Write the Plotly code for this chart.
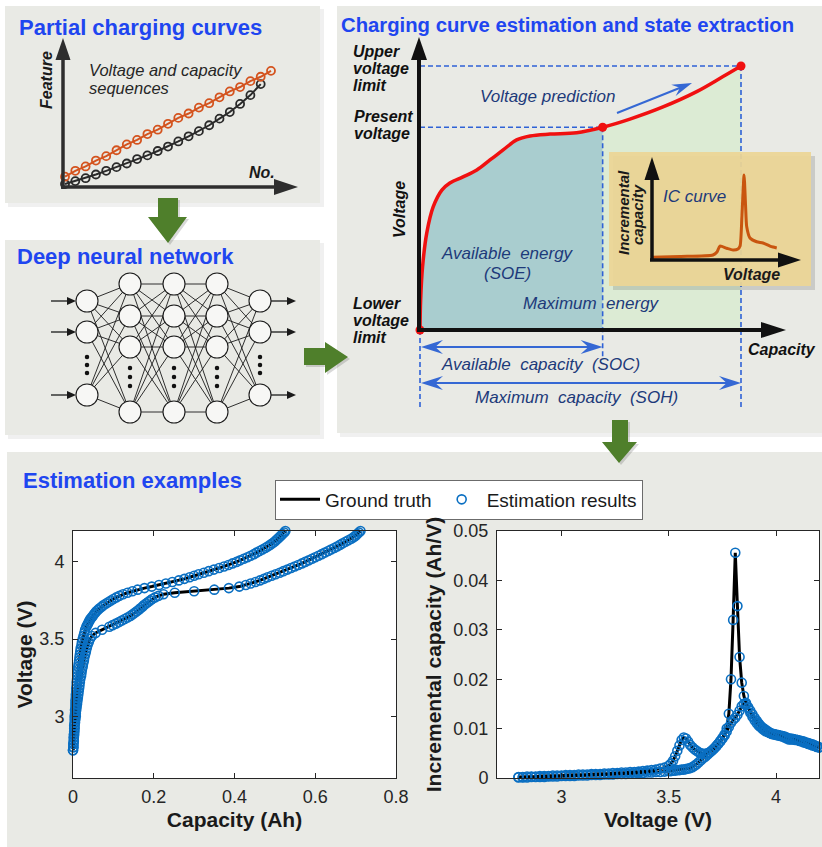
import math
import plotly.graph_objects as go

W, H = 822, 847
FONT = "Arial, 'Liberation Sans', Helvetica, sans-serif"
TITLE_BLUE = "#1f46f0"
NAVY = "#1d3a7a"
DASH_BLUE = "#2f62d6"
GREEN = "#4f7f2b"
PANEL = "#e9eae5"
MARKER_BLUE = "#0a6fc2"

# ---------------------------------------------------------------- data
# Estimation examples (left): charging curves, voltage grid vs capacity
volt_grid_q = [
    2.78, 2.80, 2.82, 2.84, 2.86, 2.88, 2.90, 2.92, 2.94, 2.96,
    2.98, 3.00, 3.02, 3.04, 3.06, 3.08, 3.10, 3.12, 3.14, 3.16,
    3.18, 3.20, 3.22, 3.24, 3.26, 3.28, 3.30, 3.32, 3.34, 3.36,
    3.38, 3.40, 3.42, 3.44, 3.46, 3.48, 3.50, 3.52, 3.54, 3.56,
    3.58,
    3.59, 3.60, 3.61, 3.62, 3.63, 3.64, 3.65, 3.66, 3.67, 3.68,
    3.69, 3.70, 3.71, 3.72, 3.73, 3.74, 3.75, 3.76, 3.77, 3.78,
    3.79, 3.80, 3.81, 3.82, 3.83, 3.84, 3.85, 3.86, 3.87, 3.88,
    3.89, 3.90, 3.91, 3.92, 3.93, 3.94, 3.95, 3.96, 3.97, 3.98,
    3.99, 4.00, 4.01, 4.02, 4.03, 4.04, 4.05, 4.06, 4.07, 4.08,
    4.09, 4.10, 4.11, 4.12, 4.13, 4.14, 4.15, 4.16, 4.17, 4.18,
    4.19, 4.20]
cap_cell_a = [
    0.000, 0.001, 0.001, 0.002, 0.002, 0.002, 0.003, 0.003, 0.003, 0.004,
    0.004, 0.004, 0.005, 0.005, 0.006, 0.006, 0.006, 0.007, 0.007, 0.008,
    0.008, 0.009, 0.009, 0.010, 0.011, 0.011, 0.012, 0.013, 0.014, 0.015,
    0.016, 0.017, 0.018, 0.019, 0.021, 0.022, 0.024, 0.026, 0.028, 0.030,
    0.033,
    0.035, 0.037, 0.039, 0.041, 0.043, 0.046, 0.049, 0.052, 0.055, 0.058,
    0.062, 0.066, 0.071, 0.076, 0.082, 0.088, 0.094, 0.100, 0.107, 0.115,
    0.124, 0.135, 0.147, 0.160, 0.177, 0.195, 0.213, 0.230, 0.246, 0.262,
    0.276, 0.289, 0.300, 0.311, 0.324, 0.336, 0.349, 0.362, 0.374, 0.385,
    0.395, 0.405, 0.414, 0.423, 0.432, 0.440, 0.448, 0.455, 0.462, 0.469,
    0.476, 0.482, 0.488, 0.494, 0.499, 0.503, 0.507, 0.511, 0.515, 0.519,
    0.523, 0.526]
cap_cell_b = [
    0.000, 0.001, 0.001, 0.002, 0.002, 0.003, 0.003, 0.004, 0.004, 0.005,
    0.006, 0.007, 0.007, 0.008, 0.009, 0.010, 0.011, 0.012, 0.013, 0.014,
    0.015, 0.016, 0.017, 0.018, 0.020, 0.021, 0.022, 0.024, 0.025, 0.027,
    0.028, 0.030, 0.032, 0.034, 0.036, 0.039, 0.042, 0.047, 0.056, 0.072,
    0.090,
    0.098, 0.106, 0.114, 0.121, 0.128, 0.135, 0.142, 0.148, 0.153, 0.158,
    0.163, 0.167, 0.172, 0.176, 0.181, 0.186, 0.191, 0.196, 0.203, 0.212,
    0.224, 0.252, 0.300, 0.350, 0.386, 0.412, 0.428, 0.440, 0.452, 0.463,
    0.473, 0.482, 0.492, 0.502, 0.512, 0.521, 0.531, 0.540, 0.549, 0.558,
    0.567, 0.575, 0.584, 0.592, 0.600, 0.608, 0.616, 0.624, 0.632, 0.639,
    0.647, 0.654, 0.661, 0.668, 0.675, 0.682, 0.689, 0.695, 0.700, 0.704,
    0.708, 0.712]

# Estimation examples (right): incremental capacity curves
volt_grid_ic = [
    2.80, 2.82, 2.84, 2.86, 2.88, 2.90, 2.92, 2.94, 2.96, 2.98,
    3.00, 3.02, 3.04, 3.06, 3.08, 3.10, 3.12, 3.14, 3.16, 3.18,
    3.20, 3.22, 3.24, 3.26, 3.28, 3.30, 3.32, 3.34, 3.36, 3.38,
    3.40, 3.42, 3.44, 3.46, 3.48,
    3.50, 3.51, 3.52, 3.53, 3.54, 3.55, 3.56, 3.57, 3.58, 3.59,
    3.60, 3.61, 3.62, 3.63, 3.64, 3.65, 3.66, 3.67, 3.68, 3.69,
    3.70, 3.71, 3.72, 3.73, 3.74, 3.75, 3.76, 3.77, 3.78, 3.79,
    3.80, 3.81, 3.82, 3.83, 3.84, 3.85, 3.86, 3.87, 3.88, 3.89,
    3.90, 3.91, 3.92, 3.93, 3.94, 3.95, 3.96, 3.97, 3.98, 3.99,
    4.00, 4.01, 4.02, 4.03, 4.04, 4.05, 4.06, 4.07, 4.08, 4.09,
    4.10, 4.11, 4.12, 4.13, 4.14, 4.15, 4.16, 4.17, 4.18, 4.19,
    4.20]
ic_cell_a = [
    0.0001, 0.0001, 0.0001, 0.0002, 0.0002, 0.0002, 0.0002, 0.0003, 0.0003, 0.0003,
    0.0004, 0.0004, 0.0004, 0.0004, 0.0005, 0.0005, 0.0005, 0.0006, 0.0006, 0.0006,
    0.0007, 0.0007, 0.0007, 0.0008, 0.0008, 0.0008, 0.0009, 0.0009, 0.0010, 0.0010,
    0.0011, 0.0011, 0.0012, 0.0012, 0.0013,
    0.0014, 0.0014, 0.0015, 0.0015, 0.0016, 0.0016, 0.0017, 0.0017, 0.0018, 0.0019,
    0.0020, 0.0022, 0.0025, 0.0028, 0.0032, 0.0036, 0.0040, 0.0043, 0.0047, 0.0051,
    0.0055, 0.0059, 0.0064, 0.0069, 0.0074, 0.0080, 0.0086, 0.0094, 0.0103, 0.0112,
    0.0118, 0.0122, 0.0128, 0.0136, 0.0145, 0.0150, 0.0149, 0.0143, 0.0136, 0.0129,
    0.0122, 0.0116, 0.0110, 0.0105, 0.0101, 0.0098, 0.0095, 0.0092, 0.0090, 0.0089,
    0.0088, 0.0087, 0.0086, 0.0085, 0.0084, 0.0082, 0.0080, 0.0080, 0.0079, 0.0078,
    0.0077, 0.0076, 0.0075, 0.0074, 0.0072, 0.0071, 0.0069, 0.0068, 0.0066, 0.0064,
    0.0062]
ic_cell_b = [
    0.0002, 0.0002, 0.0003, 0.0003, 0.0003, 0.0004, 0.0004, 0.0004, 0.0005, 0.0005,
    0.0005, 0.0006, 0.0006, 0.0006, 0.0007, 0.0007, 0.0007, 0.0008, 0.0008, 0.0008,
    0.0009, 0.0009, 0.0010, 0.0010, 0.0011, 0.0011, 0.0012, 0.0012, 0.0013, 0.0014,
    0.0015, 0.0016, 0.0017, 0.0019, 0.0021,
    0.0025, 0.0029, 0.0035, 0.0044, 0.0055, 0.0066, 0.0077, 0.0082, 0.0080, 0.0074,
    0.0067, 0.0062, 0.0058, 0.0055, 0.0052, 0.0050, 0.0049, 0.0049, 0.0050, 0.0052,
    0.0055, 0.0059, 0.0064, 0.0069, 0.0075, 0.0081, 0.0088, 0.0100, 0.0130, 0.0200,
    0.0320, 0.0456, 0.0348, 0.0245, 0.0193, 0.0166, 0.0152, 0.0142, 0.0132, 0.0124,
    0.0117, 0.0111, 0.0106, 0.0102, 0.0098, 0.0095, 0.0093, 0.0091, 0.0089, 0.0088,
    0.0087, 0.0086, 0.0085, 0.0084, 0.0082, 0.0080, 0.0078, 0.0078, 0.0078, 0.0077,
    0.0077, 0.0075, 0.0074, 0.0072, 0.0071, 0.0069, 0.0068, 0.0066, 0.0065, 0.0063,
    0.0062]

cap_ticks = [0, 0.2, 0.4, 0.6, 0.8]
volt_ticks = [3, 3.5, 4]
ic_ticks = [0, 0.01, 0.02, 0.03, 0.04, 0.05]
ic_volt_ticks = [3, 3.5, 4]

# Sketch: partial charging sequences (feature vs sample No.)
seq_no_orange = list(range(21))
seq_orange = [0.07, 0.11, 0.14, 0.18, 0.21, 0.25, 0.29, 0.32, 0.36, 0.39, 0.43,
              0.47, 0.50, 0.54, 0.57, 0.61, 0.65, 0.68, 0.72, 0.75, 0.79]
seq_no_black = list(range(20))
seq_black = [0.02, 0.04, 0.06, 0.085, 0.11, 0.135, 0.16, 0.19, 0.215, 0.245,
             0.275, 0.31, 0.345, 0.38, 0.42, 0.465, 0.51, 0.565, 0.625, 0.70]

# Sketch: charging curve (normalised capacity, normalised voltage)
sketch_cap = [0.0, 0.002, 0.008, 0.021, 0.041, 0.068, 0.093, 0.134, 0.177, 0.218,
              0.259, 0.301, 0.343, 0.405, 0.488, 0.569, 0.654, 0.757, 0.862, 0.944, 1.0]
sketch_volt = [0.0, 0.114, 0.240, 0.367, 0.466, 0.530, 0.557, 0.580, 0.606, 0.644,
               0.682, 0.720, 0.735, 0.742, 0.747, 0.768, 0.799, 0.845, 0.903, 0.960, 1.0]
present_idx = 15

# Sketch: IC curve inset (normalised voltage, normalised IC)
sketch_ic_v = [0.0, 0.189, 0.412, 0.439, 0.459, 0.505, 0.547, 0.581, 0.595, 0.608,
               0.622, 0.632, 0.640, 0.662, 0.707, 0.750, 0.797, 0.818, 0.843]
sketch_ic = [0.026, 0.034, 0.049, 0.078, 0.137, 0.115, 0.098, 0.108, 0.137, 0.441,
             0.833, 0.539, 0.326, 0.216, 0.179, 0.167, 0.137, 0.127, 0.118]

# Sketch: deep neural network (columns and node rows)
dnn_col_x = [87, 130, 174, 217, 260]
dnn_outer_rows = [301, 332, 395]
dnn_hidden_rows = [284, 316, 347, 412]
dnn_outer_dots = [357, 365, 373]
dnn_hidden_dots = [368, 377, 386]

# ---------------------------------------------------------------- helpers
def X(px):
    return px / W


def Y(py):
    return 1 - py / H


shapes = []
annotations = []


def rect(x0, y0, x1, y1, fill, layer="below"):
    shapes.append(dict(type="rect", xref="paper", yref="paper", x0=X(x0), x1=X(x1),
                       y0=Y(y1), y1=Y(y0), fillcolor=fill, line=dict(width=0), layer=layer))


def poly(pts, fill, layer="above"):
    path = "M " + " L ".join(f"{X(a):.5f},{Y(b):.5f}" for a, b in pts) + " Z"
    shapes.append(dict(type="path", xref="paper", yref="paper", path=path,
                       fillcolor=fill, line=dict(width=0), layer=layer))


def arrow(x0, y0, x1, y1, color, width, hl, hw, notch=1.0, both=False, layer="above"):
    dx, dy = x1 - x0, y1 - y0
    L = math.hypot(dx, dy)
    ux, uy = dx / L, dy / L
    nx, ny = -uy, ux

    def head(tx, ty, vx, vy):
        bx, by = tx - vx * hl, ty - vy * hl
        p1 = (bx + nx * hw, by + ny * hw)
        p2 = (bx - nx * hw, by - ny * hw)
        pin = (tx - vx * hl * notch, ty - vy * hl * notch)
        poly([(tx, ty), p1, pin, p2], color, layer)

    sx0, sy0 = x0, y0
    if both:
        sx0, sy0 = x0 + ux * hl * 0.5, y0 + uy * hl * 0.5
    sx1, sy1 = x1 - ux * hl * 0.5, y1 - uy * hl * 0.5
    shapes.append(dict(type="line", xref="paper", yref="paper", x0=X(sx0), y0=Y(sy0),
                       x1=X(sx1), y1=Y(sy1), line=dict(color=color, width=width), layer=layer))
    head(x1, y1, ux, uy)
    if both:
        head(x0, y0, -ux, -uy)


def text(px, py, s, size, color="#111111", anchor="left", angle=0, bold=False, italic=False):
    if italic:
        s = f"<i>{s}</i>"
    if bold:
        s = f"<b>{s}</b>"
    annotations.append(dict(x=X(px), y=Y(py), xref="paper", yref="paper", text=s,
                            showarrow=False, xanchor=anchor, yanchor="middle", textangle=angle,
                            font=dict(family=FONT, size=size, color=color)))


def hidden_axis(dom_x, dom_y, rng_x, rng_y):
    ax = dict(domain=dom_x, range=rng_x, visible=False, fixedrange=True)
    ay = dict(domain=dom_y, range=rng_y, visible=False, fixedrange=True)
    return ax, ay


# ---------------------------------------------------------------- panels
for (x0, y0, x1, y1) in [(5, 6, 320, 203), (337, 6, 822, 433), (5, 240, 320, 435), (7, 452, 822, 847)]:
    rect(x0 + 3, y0 + 3, x1 + 4, y1 + 4, "rgba(0,0,0,0.06)")
    rect(x0, y0, x1, y1, PANEL)

fig = go.Figure()

# ---------------------------------------------------------------- panel 1 sketch (x3/y3)
x3, y3 = hidden_axis([X(55), X(300)], [Y(192), Y(35)],
                     [(55 - 65) / 10.3, (300 - 65) / 10.3], [(187 - 192) / 147, (187 - 35) / 147])
fig.add_trace(go.Scatter(x=seq_no_black, y=seq_black, xaxis="x3", yaxis="y3", mode="lines+markers",
                         line=dict(color="#2a2a2a", width=2),
                         marker=dict(symbol="circle-open", size=8, color="#2a2a2a", line=dict(width=1.8)),
                         showlegend=False, hoverinfo="skip", cliponaxis=False))
fig.add_trace(go.Scatter(x=seq_no_orange, y=seq_orange, xaxis="x3", yaxis="y3", mode="lines+markers",
                         line=dict(color="#d4531e", width=2),
                         marker=dict(symbol="circle-open", size=8, color="#d4531e", line=dict(width=1.8)),
                         showlegend=False, hoverinfo="skip", cliponaxis=False))
arrow(63, 189, 63, 38, "#2e2e2e", 3.5, 22, 7.5)
arrow(61, 187, 298, 187, "#2e2e2e", 3.5, 24, 8)
text(17, 27, "Partial charging curves", 22, TITLE_BLUE, bold=True)
text(87, 70, "Voltage and capacity", 16.5, "#262626", italic=True)
text(87, 88, "sequences", 16.5, "#262626", italic=True)
text(47, 80, "Feature", 16, "#1a1a1a", anchor="center", angle=-90, bold=True, italic=True)
text(262, 172, "No.", 16, "#1a1a1a", anchor="center", bold=True, italic=True)


# ---------------------------------------------------------------- panel 2 sketch (x4/y4)
def cpx(c):
    return 420 + 321 * c


x4, y4 = hidden_axis([X(405), X(815)], [Y(415), Y(30)],
                     [(405 - 420) / 321, (815 - 420) / 321], [(330 - 415) / 264, (330 - 30) / 264])
cap_p, volt_p = sketch_cap[present_idx], sketch_volt[present_idx]
cap_e, volt_e = sketch_cap[-1], sketch_volt[-1]
fig.add_trace(go.Scatter(x=sketch_cap[:present_idx + 1], y=sketch_volt[:present_idx + 1],
                         xaxis="x4", yaxis="y4", mode="lines", line=dict(width=0, shape="spline"),
                         fill="tozeroy", fillcolor="#a9cdcf", showlegend=False, hoverinfo="skip"))
fig.add_trace(go.Scatter(x=sketch_cap[present_idx:], y=sketch_volt[present_idx:],
                         xaxis="x4", yaxis="y4", mode="lines", line=dict(width=0, shape="spline"),
                         fill="tozeroy", fillcolor="#dcebd4", showlegend=False, hoverinfo="skip"))
low_v = (330 - 407) / 264
mid_v = (330 - 357) / 264
dash_x = [0, cap_e, None, 0, cap_p, None, cap_p, cap_p, None, cap_e, cap_e, None, 0, 0]
dash_y = [volt_e, volt_e, None, volt_p, volt_p, None, volt_p, mid_v, None, volt_e, low_v, None, 0, low_v]
fig.add_trace(go.Scatter(x=dash_x, y=dash_y, xaxis="x4", yaxis="y4", mode="lines",
                         line=dict(color=DASH_BLUE, width=1.6, dash="5px,3px"),
                         showlegend=False, hoverinfo="skip", cliponaxis=False))
fig.add_trace(go.Scatter(x=sketch_cap, y=sketch_volt, xaxis="x4", yaxis="y4", mode="lines",
                         line=dict(color="#f01010", width=3.5, shape="spline"),
                         showlegend=False, hoverinfo="skip"))
fig.add_trace(go.Scatter(x=[0, cap_p, cap_e], y=[0, volt_p, volt_e], xaxis="x4", yaxis="y4",
                         mode="markers", marker=dict(color="#f01010", size=9),
                         showlegend=False, hoverinfo="skip", cliponaxis=False))


# inset IC curve (x5/y5)
def ix(px):
    return (px - 652) / 148


def iy(py):
    return (260 - py) / 102


x5, y5 = hidden_axis([X(605), X(818)], [Y(292), Y(148)], [ix(605), ix(818)], [iy(292), iy(148)])
bx0, bx1, by0, by1 = ix(609), ix(811), iy(286), iy(152)
sx, sy = 4 / 148, 4 / 102
fig.add_trace(go.Scatter(x=[bx0 + sx, bx1 + sx, bx1 + sx, bx0 + sx, bx0 + sx],
                         y=[by0 - sy, by0 - sy, by1 - sy, by1 - sy, by0 - sy],
                         xaxis="x5", yaxis="y5", mode="lines", line=dict(width=0), fill="toself",
                         fillcolor="rgba(0,0,0,0.13)", showlegend=False, hoverinfo="skip"))
fig.add_trace(go.Scatter(x=[bx0, bx1, bx1, bx0, bx0], y=[by0, by0, by1, by1, by0],
                         xaxis="x5", yaxis="y5", mode="lines", line=dict(width=0), fill="toself",
                         fillcolor="rgba(236,214,150,0.94)", showlegend=False, hoverinfo="skip"))
fig.add_trace(go.Scatter(x=sketch_ic_v, y=sketch_ic, xaxis="x5", yaxis="y5", mode="lines",
                         line=dict(color="#c9550f", width=3, shape="spline", smoothing=0.6),
                         showlegend=False, hoverinfo="skip"))
arrow(652, 261, 652, 157, "#111111", 3.5, 23, 7.5)
arrow(650, 260, 801, 260, "#111111", 3.5, 23, 7.5)
text(623, 213, "Incremental", 15, "#1a1a1a", anchor="center", angle=-90, bold=True, italic=True)
text(637, 215, "capacity", 15, "#1a1a1a", anchor="center", angle=-90, bold=True, italic=True)
text(694, 196, "IC curve", 17, NAVY, anchor="center", italic=True)
text(751, 274, "Voltage", 16, "#1a1a1a", anchor="center", bold=True, italic=True)

# panel 2 axes and arrows
arrow(419, 332, 419, 37, "#111111", 4, 23, 8)
arrow(417, 330, 786, 330, "#111111", 4, 25, 8)
arrow(cpx(0) + 1, 347, cpx(cap_p), 347, "#3568d4", 2, 22, 7, notch=0.65, both=True)
arrow(cpx(0) + 1, 383, cpx(cap_e), 383, "#3568d4", 2, 22, 7, notch=0.65, both=True)
arrow(617, 113, 692, 83, "#3568d4", 2, 20, 6, notch=0.65)

text(339, 25, "Charging curve estimation and state extraction", 20.3, TITLE_BLUE, bold=True)
for i, s in enumerate(["Upper", "voltage", "limit"]):
    text(351, 52 + 17 * i, s, 16, "#111111", bold=True, italic=True)
for i, s in enumerate(["Present", "voltage"]):
    text(352, 116 + 17 * i, s, 16, "#111111", bold=True, italic=True)
for i, s in enumerate(["Lower", "voltage", "limit"]):
    text(351, 303 + 17 * i, s, 16, "#111111", bold=True, italic=True)
text(399, 210, "Voltage", 16, "#111111", anchor="center", angle=-90, bold=True, italic=True)
text(818, 350, "Capacity", 16, "#111111", anchor="right", bold=True, italic=True)
text(547, 97, "Voltage prediction", 17, NAVY, anchor="center", italic=True)
text(507, 253, "Available  energy", 17, NAVY, anchor="center", italic=True)
text(507, 273, "(SOE)", 17, NAVY, anchor="center", italic=True)
text(591, 303, "Maximum  energy", 17, NAVY, anchor="center", italic=True)
text(540, 364, "Available  capacity  (SOC)", 17, NAVY, anchor="center", italic=True)
text(576, 397, "Maximum  capacity  (SOH)", 17, NAVY, anchor="center", italic=True)

# ---------------------------------------------------------------- panel 3 DNN (x6/y6)
x6, y6 = hidden_axis([X(40), X(310)], [Y(432), Y(262)], [40, 310], [432, 262])
layers = [dnn_outer_rows, dnn_hidden_rows, dnn_hidden_rows, dnn_hidden_rows, dnn_outer_rows]
ex, ey = [], []
for li in range(len(layers) - 1):
    for ra in layers[li]:
        for rb in layers[li + 1]:
            ex += [dnn_col_x[li], dnn_col_x[li + 1], None]
            ey += [ra, rb, None]
fig.add_trace(go.Scatter(x=ex, y=ey, xaxis="x6", yaxis="y6", mode="lines",
                         line=dict(color="#1a1a1a", width=0.9), showlegend=False, hoverinfo="skip"))
nx_, ny_ = [], []
for li, rows in enumerate(layers):
    for r in rows:
        nx_.append(dnn_col_x[li])
        ny_.append(r)
fig.add_trace(go.Scatter(x=nx_, y=ny_, xaxis="x6", yaxis="y6", mode="markers",
                         marker=dict(size=22, color="#f7f7f5", line=dict(color="#1a1a1a", width=1.1)),
                         showlegend=False, hoverinfo="skip", cliponaxis=False))
dx_, dy_ = [], []
for li in range(len(layers)):
    dots = dnn_outer_dots if li in (0, len(layers) - 1) else dnn_hidden_dots
    for d in dots:
        dx_.append(dnn_col_x[li])
        dy_.append(d)
fig.add_trace(go.Scatter(x=dx_, y=dy_, xaxis="x6", yaxis="y6", mode="markers",
                         marker=dict(size=4.5, color="#111111"), showlegend=False, hoverinfo="skip"))
for r in dnn_outer_rows:
    arrow(51, r, 76, r, "#1a1a1a", 1.3, 9, 4)
    arrow(271, r, 296, r, "#1a1a1a", 1.3, 9, 4)
text(15, 256, "Deep neural network", 22, TITLE_BLUE, bold=True)

# ---------------------------------------------------------------- green flow arrows
for pts in [
    [(158, 198), (178, 198), (178, 217), (187, 217), (168, 243), (148, 217), (158, 217)],
    [(304, 348), (325, 348), (325, 342), (348, 357), (325, 373), (325, 365), (304, 365)],
    [(612, 420), (628, 420), (628, 442), (637, 442), (619, 463), (602, 442), (612, 442)],
]:
    poly([(a + 2, b + 2) for a, b in pts], "rgba(0,0,0,0.15)")
    poly(pts, GREEN)

# ---------------------------------------------------------------- estimation examples
text(21, 480, "Estimation examples", 22, TITLE_BLUE, bold=True)
for ref in ("x", "x2"):
    yref = ref.replace("x", "y")
    shapes.append(dict(type="rect", xref=f"{ref} domain", yref=f"{yref} domain", x0=0, x1=1, y0=0, y1=1,
                       fillcolor="white", line=dict(width=0), layer="below"))

marker = dict(symbol="circle-open", size=9, color=MARKER_BLUE, line=dict(width=1.6, color=MARKER_BLUE))
for xs, ys, xa, ya, first in [(cap_cell_a, volt_grid_q, "x", "y", True),
                              (cap_cell_b, volt_grid_q, "x", "y", False),
                              (volt_grid_ic, ic_cell_a, "x2", "y2", False),
                              (volt_grid_ic, ic_cell_b, "x2", "y2", False)]:
    fig.add_trace(go.Scatter(x=xs, y=ys, mode="lines", name="Ground truth",
                             line=dict(color="black", width=3), legendgroup="gt", showlegend=first,
                             xaxis=xa, yaxis=ya, hoverinfo="skip"))
for xs, ys, xa, ya, first in [(cap_cell_a, volt_grid_q, "x", "y", True),
                              (cap_cell_b, volt_grid_q, "x", "y", False),
                              (volt_grid_ic, ic_cell_a, "x2", "y2", False),
                              (volt_grid_ic, ic_cell_b, "x2", "y2", False)]:
    fig.add_trace(go.Scatter(x=xs, y=ys, mode="markers", name="Estimation results",
                             marker=marker, legendgroup="est", showlegend=first, cliponaxis=False,
                             xaxis=xa, yaxis=ya, hoverinfo="skip"))


def data_axis(domain, rng, ticks, title, standoff, lab_standoff):
    return dict(domain=domain, range=rng, tickvals=ticks, ticks="inside", ticklen=5,
                tickcolor="#262626", showline=True, linecolor="#262626", linewidth=1,
                mirror="ticks", showgrid=False, zeroline=False, automargin=False,
                tickfont=dict(family=FONT, size=18, color="#262626"),
                ticklabelstandoff=lab_standoff,
                title=dict(text=f"<b>{title}</b>", standoff=standoff,
                           font=dict(family=FONT, size=21, color="#1a1a1a")),
                fixedrange=True)


dom_y = [Y(778), Y(531)]
layout_axes = dict(
    xaxis=data_axis([X(73), X(396)], [0, 0.8], cap_ticks, "Capacity (Ah)", 6, 2),
    yaxis=data_axis(dom_y, [2.6, 4.2], volt_ticks, "Voltage (V)", 1, 4),
    xaxis2=data_axis([X(497), X(819)], [2.7, 4.2], ic_volt_ticks, "Voltage (V)", 6, 2),
    yaxis2=data_axis(dom_y, [0, 0.05], ic_ticks, "Incremental capacity (Ah/V)", 6, 4),
    xaxis3=x3, yaxis3=y3, xaxis4=x4, yaxis4=y4, xaxis5=x5, yaxis5=y5, xaxis6=x6, yaxis6=y6,
)
layout_axes["yaxis2"]["anchor"] = "x2"
layout_axes["xaxis2"]["anchor"] = "y2"
layout_axes["xaxis"]["anchor"] = "y"
layout_axes["yaxis"]["anchor"] = "x"
for k in ("3", "4", "5", "6"):
    layout_axes["xaxis" + k]["anchor"] = "y" + k
    layout_axes["yaxis" + k]["anchor"] = "x" + k

fig.update_layout(
    width=W, height=H, margin=dict(l=0, r=0, t=0, b=0),
    paper_bgcolor="white", plot_bgcolor="rgba(0,0,0,0)",
    font=dict(family=FONT),
    showlegend=True,
    legend=dict(orientation="h", x=X(459), y=Y(499.5), xanchor="center", yanchor="middle",
                bgcolor="white", bordercolor="#6b6b6b", borderwidth=1,
                font=dict(family=FONT, size=19, color="#1a1a1a"), itemwidth=40),
    shapes=shapes, annotations=annotations, hovermode=False,
    **layout_axes,
)

fig.write_html("out.html", config={"displayModeBar": False},
               post_script="document.body.style.margin='0px';document.body.style.overflow='hidden';")
